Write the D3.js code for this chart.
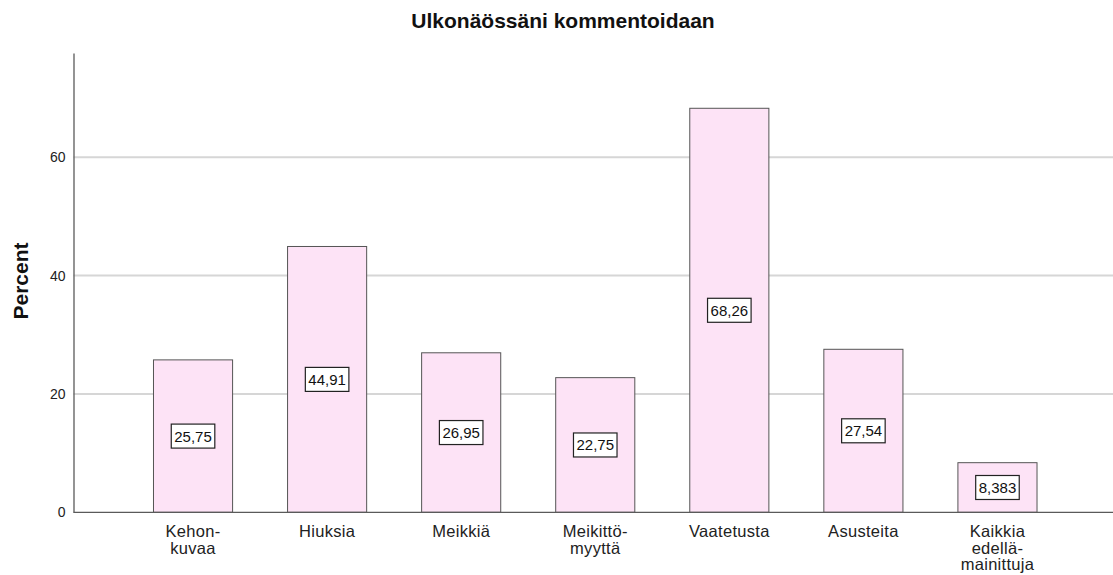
<!DOCTYPE html>
<html>
<head>
<meta charset="utf-8">
<script src="https://cdn.jsdelivr.net/npm/d3@7"></script>
<style>
  body { margin: 0; background: #fff; }
  svg { display: block; font-family: Arial, "Liberation Sans", sans-serif; }
</style>
</head>
<body>
<svg id="canvas" width="1113" height="575"></svg>
<script>
let title = "Ulkonäössäni kommentoidaan"
let yLabel = "Percent"
let categories = ["Kehon-\nkuvaa", "Hiuksia", "Meikkiä", "Meikittö-\nmyyttä", "Vaatetusta", "Asusteita", "Kaikkia\nedellä-\nmainittuja"]
let values = [25.75, 44.91, 26.95, 22.75, 68.26, 27.54, 8.383]
let yTicks = [0, 20, 40, 60]

let canvas = d3.select("#canvas")

let plotLeft = 73.5
let plotRight = 1113
let plotTop = 53
let plotBottom = 512.3

let fi = d3.formatLocale({decimal: ",", thousands: " ", grouping: [3], currency: ["", ""]})
let fmt = fi.format(".4r")

let x = d3.scaleBand()
    .domain(categories)
    .range([126, 1064.5])
    .paddingInner(0.41)
    .paddingOuter(0.205)

let y = d3.scaleLinear()
    .domain([0, 77.6])
    .range([plotBottom, plotTop])

// gridlines
canvas.append("g")
    .selectAll("line")
    .data(yTicks.filter(d => d > 0))
    .enter()
    .append("line")
    .attr("x1", plotLeft)
    .attr("x2", plotRight)
    .attr("y1", d => y(d))
    .attr("y2", d => y(d))
    .attr("stroke", "#d6d6d6")
    .attr("stroke-width", 2)

// y axis
let yAxis = canvas.append("g")
    .attr("transform", `translate(${plotLeft},0)`)
    .call(d3.axisLeft(y).tickValues(yTicks).tickSize(0).tickSizeOuter(0).tickPadding(8))
yAxis.select(".domain").attr("stroke", "#5a5a5a").attr("stroke-width", 1.3)
yAxis.selectAll("text")
    .attr("font-size", "14px")
    .attr("font-family", "Arial, 'Liberation Sans', sans-serif")
    .attr("fill", "#222")

// bars
canvas.append("g")
    .selectAll("rect")
    .data(values)
    .enter()
    .append("rect")
    .attr("x", (d, i) => x(categories[i]))
    .attr("y", d => y(d))
    .attr("width", x.bandwidth())
    .attr("height", d => y(0) - y(d))
    .attr("fill", "#fde3f6")
    .attr("stroke", "#555")
    .attr("stroke-width", 1)

// baseline
canvas.append("line")
    .attr("x1", plotLeft)
    .attr("x2", plotRight)
    .attr("y1", y(0))
    .attr("y2", y(0))
    .attr("stroke", "#5a5a5a")
    .attr("stroke-width", 1.3)

// value labels with boxes
let labels = canvas.append("g")
    .selectAll("g")
    .data(values)
    .enter()
    .append("g")
    .attr("transform", (d, i) => `translate(${x(categories[i]) + x.bandwidth() / 2},${y(d / 2)})`)

labels.append("rect")
    .attr("fill", "white")
    .attr("stroke", "#222")
    .attr("stroke-width", 1.2)

labels.append("text")
    .attr("text-anchor", "middle")
    .attr("dy", "0.36em")
    .attr("font-size", "15px")
    .attr("fill", "#111")
    .text(d => fmt(d))

labels.each(function () {
    let g = d3.select(this)
    let w = g.select("text").node().getComputedTextLength()
    g.select("rect")
        .attr("x", -w / 2 - 3)
        .attr("y", -12)
        .attr("width", w + 6)
        .attr("height", 24)
})

// category labels
let catLabels = canvas.append("g")
    .selectAll("text")
    .data(categories)
    .enter()
    .append("text")
    .attr("text-anchor", "middle")
    .attr("font-size", "16.5px")
    .attr("letter-spacing", "0.3px")
    .attr("fill", "#222")
    .attr("x", d => x(d) + x.bandwidth() / 2)
    .attr("y", 537)

catLabels.selectAll("tspan")
    .data(d => d.split("\n"))
    .enter()
    .append("tspan")
    .attr("x", function () { return d3.select(this.parentNode).attr("x") })
    .attr("dy", (d, i) => i === 0 ? 0 : 16.6)
    .text(d => d)

// title
canvas.append("text")
    .attr("x", 563)
    .attr("y", 28)
    .attr("text-anchor", "middle")
    .attr("font-size", "21px")
    .attr("font-weight", "bold")
    .attr("fill", "#111")
    .text(title)

// y label
canvas.append("text")
    .attr("transform", "translate(28,281) rotate(-90)")
    .attr("text-anchor", "middle")
    .attr("font-size", "21px")
    .attr("font-weight", "bold")
    .attr("fill", "#111")
    .text(yLabel)
</script>
</body>
</html>
